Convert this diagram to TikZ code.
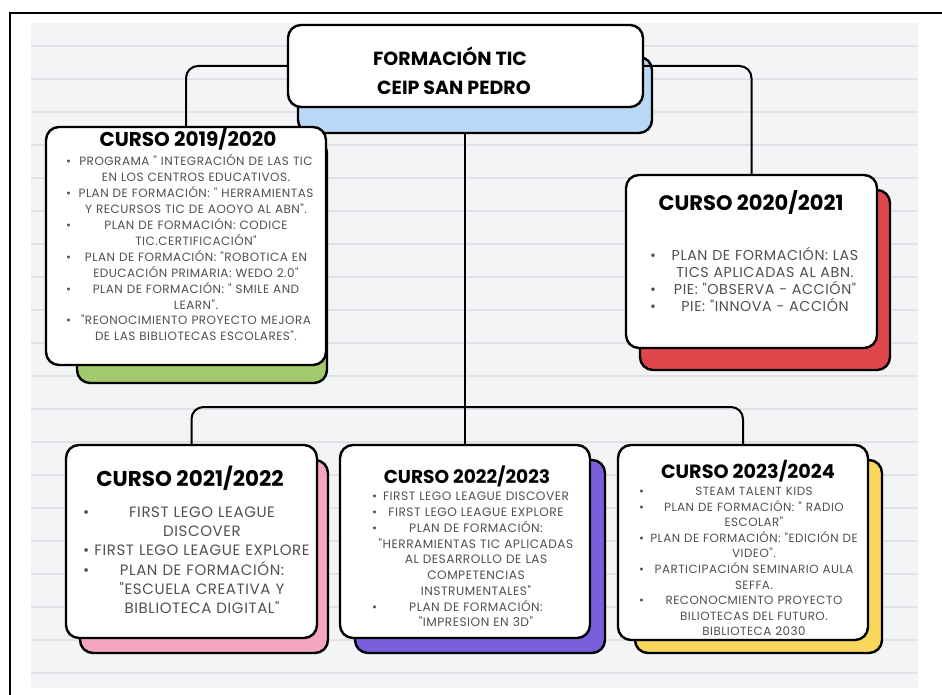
\documentclass[tikz,border=0pt]{standalone}
\usepackage{fontspec}
\setmainfont{Poppins}
\newfontfamily\bodyfont{Poppins}[LetterSpace=4]
\usepackage{xcolor}
\usepackage{tikz}
\usetikzlibrary{calc}

\definecolor{cBlue}{HTML}{B8D8F6}
\definecolor{cGreen}{HTML}{A2C96B}
\definecolor{cRed}{HTML}{DF474D}
\definecolor{cPink}{HTML}{F2A6C1}
\definecolor{cPurple}{HTML}{7A5FDD}
\definecolor{cYellow}{HTML}{F8D75C}
\definecolor{cPaper}{HTML}{F3F4F6}
\definecolor{cRule}{HTML}{DFE3E8}
\definecolor{cBody}{HTML}{505050}

\newlength{\bulind}
\setlength{\bulind}{8pt}
\newcommand{\tsItem}[1]{\par\noindent\makebox[\linewidth][l]{\rlap{\textbullet}\hspace{\bulind}\makebox[\dimexpr\linewidth-\bulind\relax][c]{#1}}}
\newcommand{\tsCont}[1]{\par\noindent\makebox[\linewidth][l]{\hspace{\bulind}\makebox[\dimexpr\linewidth-\bulind\relax][c]{#1}}}

\tikzstyle{tsCard} = [
    rectangle,
    rounded corners=13pt,
    draw=black,
    line width=2.4pt,
    fill=white
]
\tikzstyle{tsLink} = [
    draw=black,
    line width=2pt,
    rounded corners=12pt
]
\tikzstyle{tsTitle} = [
    text=black,
    font=\bfseries\fontsize{20}{22}\selectfont
]
\tikzstyle{tsBody} = [
    text=cBody,
    inner sep=0pt
]

\begin{document}
\begin{tikzpicture}[x=1pt, y=-1pt]

    \useasboundingbox (0,0) rectangle (942,695);
    \fill[white] (0,0) rectangle (942,695);
    \fill[cPaper] (31,23) rectangle (918,688);
    \foreach \yy in {46,79,...,673}
        \draw[cRule, line width=1.1pt] (31,\yy) -- (918,\yy);
    \draw[line width=1.6pt] (10,695) -- (10,13) -- (942,13);

    % shadows
    \node[tsCard, fill=cBlue, minimum width=354pt, minimum height=76pt] (topShadow) at (475,95) { };
    \node[tsCard, fill=cGreen, minimum width=250pt, minimum height=243pt] (s19) at (202,261.5) { };
    \node[tsCard, fill=cRed, minimum width=250pt, minimum height=180pt] (s20) at (765,280) { };
    \node[tsCard, fill=cPink, minimum width=248pt, minimum height=193pt] (s21) at (204,556.5) { };
    \node[tsCard, fill=cPurple, minimum width=250pt, minimum height=193pt] (s22) at (480,556.5) { };
    \node[tsCard, fill=cYellow, minimum width=247pt, minimum height=193pt] (s23) at (758.5,556.5) { };

    % cards
    \node[tsCard, minimum width=355pt, minimum height=82pt] (top) at (465.5,66) { };
    \node[tsCard, minimum width=280pt, minimum height=238pt] (c19) at (186,246) { };
    \node[tsCard, minimum width=251pt, minimum height=173pt] (c20) at (751.5,261.5) { };
    \node[tsCard, minimum width=251pt, minimum height=193pt] (c21) at (191.5,541.5) { };
    \node[tsCard, minimum width=250pt, minimum height=193pt] (c22) at (465,541.5) { };
    \node[tsCard, minimum width=250pt, minimum height=195pt] (c23) at (743,542.5) { };

    \coordinate (bus) at (465,407);
    \draw[tsLink] (top.west) -| (c19.north);
    \draw[tsLink] (top.east) -| (c20.north);
    \draw[tsLink] (c22.north |- topShadow.south) -- (c22.north);
    \draw[tsLink] (c21.north) |- (bus) -| (c23.north);

    \node[tsTitle, font=\bfseries\fontsize{19}{21}\selectfont] (topA) at (450,56) {FORMACIÓN TIC};
    \node[tsTitle, font=\bfseries\fontsize{19}{21}\selectfont] (topB) at (454,88) {CEIP SAN PEDRO};

    \node[tsTitle] (t19) at (188,139) {CURSO 2019/2020};
    \node[tsTitle, font=\bfseries\fontsize{21}{23}\selectfont] (t20) at (751,202) {CURSO 2020/2021};
    \node[tsTitle, font=\bfseries\fontsize{21.5}{23}\selectfont] (t21) at (190,478) {CURSO 2021/2022};
    \node[tsTitle, font=\bfseries\fontsize{18.6}{20}\selectfont] (t22) at (467,476) {CURSO 2022/2023};
    \node[tsTitle, font=\bfseries\fontsize{19.2}{21}\selectfont] (t23) at (748,471) {CURSO 2023/2024};

    \node[tsBody, text width=252pt, font=\bodyfont\fontsize{12}{15.9}\selectfont] (b19) at (192,245.5) {%
        \tsItem{PROGRAMA " INTEGRACIÓN DE LAS TIC}
        \tsCont{EN LOS CENTROS EDUCATIVOS.}
        \tsItem{PLAN DE FORMACIÓN: " HERRAMIENTAS}
        \tsCont{Y RECURSOS TIC DE AOOYO AL ABN".}
        \tsItem{PLAN DE FORMACIÓN: CODICE}
        \tsCont{TIC.CERTIFICACIÓN"}
        \tsItem{PLAN DE FORMACIÓN: "ROBOTICA EN}
        \tsCont{EDUCACIÓN PRIMARIA: WEDO 2.0"}
        \tsItem{PLAN DE FORMACIÓN: " SMILE AND}
        \tsCont{LEARN".}
        \tsItem{"REONOCIMIENTO PROYECTO MEJORA}
        \tsCont{DE LAS BIBLIOTECAS ESCOLARES".}};

    \node[tsBody, text width=222pt, font=\bodyfont\fontsize{14.3}{17}\selectfont] (b20) at (761,277.5) {%
        \tsItem{PLAN DE FORMACIÓN: LAS}
        \tsCont{TICS APLICADAS AL ABN.}
        \tsItem{PIE: "OBSERVA - ACCIÓN"}
        \tsItem{PIE: "INNOVA - ACCIÓN}};

    \node[tsBody, text width=230pt, font=\bodyfont\fontsize{15}{19.2}\selectfont] (b21) at (198,556) {%
        \tsItem{FIRST LEGO LEAGUE}
        \tsCont{DISCOVER}
        \tsItem{FIRST LEGO LEAGUE EXPLORE}
        \tsItem{PLAN DE FORMACIÓN:}
        \tsCont{"ESCUELA CREATIVA Y}
        \tsCont{BIBLIOTECA DIGITAL"}};

    \node[tsBody, text width=200pt, font=\bodyfont\fontsize{12.2}{15.75}\selectfont] (b22) at (472,556) {%
        \tsItem{FIRST LEGO LEAGUE DISCOVER}
        \tsItem{FIRST LEGO LEAGUE EXPLORE}
        \tsItem{PLAN DE FORMACIÓN:}
        \tsCont{"HERRAMIENTAS TIC APLICADAS}
        \tsCont{AL DESARROLLO DE LAS}
        \tsCont{COMPETENCIAS}
        \tsCont{INSTRUMENTALES"}
        \tsItem{PLAN DE FORMACIÓN:}
        \tsCont{"IMPRESION EN 3D"}};

    \node[tsBody, text width=222pt, font=\bodyfont\fontsize{11.9}{15.6}\selectfont] (b23) at (750,558) {%
        \tsItem{STEAM TALENT KIDS}
        \tsItem{PLAN DE FORMACIÓN: " RADIO}
        \tsCont{ESCOLAR"}
        \tsItem{PLAN DE FORMACIÓN: "EDICIÓN DE}
        \tsCont{VIDEO".}
        \tsItem{PARTICIPACIÓN SEMINARIO AULA}
        \tsCont{SEFFA.}
        \tsItem{RECONOCMIENTO PROYECTO}
        \tsCont{BILIOTECAS DEL FUTURO.}
        \tsCont{BIBLIOTECA 2030}};

\end{tikzpicture}
\end{document}
